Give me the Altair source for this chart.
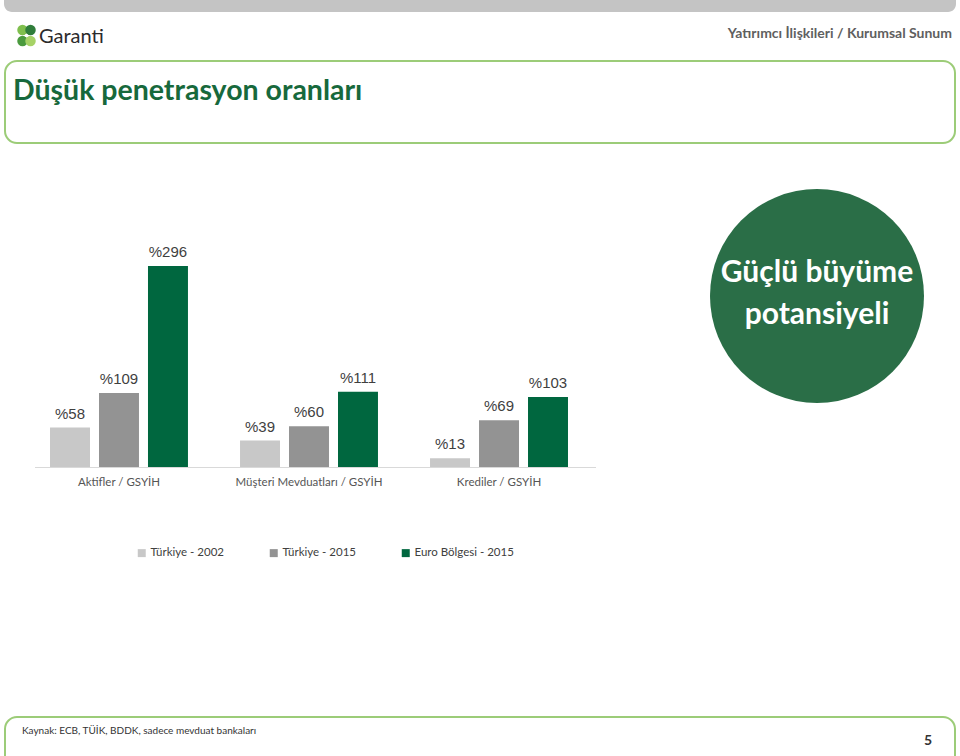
import altair as alt
import pandas as pd

# ---- data ----
categories = ["Aktifler / GSYİH", "Müşteri Mevduatları / GSYİH", "Krediler / GSYİH"]
series = ["Türkiye - 2002", "Türkiye - 2015", "Euro Bölgesi - 2015"]
tr_2002 = [58, 39, 13]
tr_2015 = [109, 60, 69]
euro_2015 = [296, 111, 103]
series_colors = ["#c8c8c8", "#939393", "#00673f"]

rows = []
for i, c in enumerate(categories):
    for s, vals in zip(series, [tr_2002, tr_2015, euro_2015]):
        rows.append({"kategori": c, "seri": s, "deger": vals[i], "etiket": f"%{vals[i]}"})
df = pd.DataFrame(rows)
cat_df = pd.DataFrame({"kategori": categories})

CAL = "Lato"
ARIAL = "Liberation Sans"
GREEN_LINE = "#9ccc78"

xscale = alt.Scale(domain=categories, range=[35, 583], paddingInner=0.274, paddingOuter=0.079)
xoff_scale = alt.Scale(domain=series, paddingInner=0.184, paddingOuter=0)
yscale = alt.Scale(domain=[0, 296], range=[467, 266], nice=False, zero=True)

def blank():
    return alt.Chart(pd.DataFrame({"a": [0]}))

# ---- decorations ----
header_bar = blank().mark_rect(fill="#c4c4c4", cornerRadius=8).encode(
    x=alt.value(4), x2=alt.value(956), y=alt.value(-12), y2=alt.value(12))
title_box = blank().mark_rect(fill="white", stroke=GREEN_LINE, strokeWidth=2, cornerRadius=12).encode(
    x=alt.value(5), x2=alt.value(955), y=alt.value(61), y2=alt.value(143))
footer_box = blank().mark_rect(fill="white", stroke=GREEN_LINE, strokeWidth=2, cornerRadius=12).encode(
    x=alt.value(5), x2=alt.value(955), y=alt.value(717), y2=alt.value(790))

logo_leaves = pd.DataFrame({
    "lx": [22.5, 30.5, 22.5, 30.5, 26.5],
    "ly": [30, 30, 41, 41, 35.5],
    "col": ["#7fbf4d", "#2f7d3a", "#4a9a3e", "#a6d266", "#ffffff"],
    "sz": [110, 110, 110, 110, 10],
})
logo = alt.Chart(logo_leaves).mark_circle(opacity=1).encode(
    x=alt.X("lx:Q", scale=None), y=alt.Y("ly:Q", scale=None),
    color=alt.Color("col:N", scale=None), size=alt.Size("sz:Q", scale=None))
logo_text = blank().mark_text(text="Garanti", font=CAL, fontSize=20, color="#2b2b2b",
                               align="left", baseline="middle").encode(
    x=alt.value(39), y=alt.value(37))
header_text = blank().mark_text(text="Yatırımcı İlişkileri / Kurumsal Sunum", font=CAL, fontSize=14,
                                 fontWeight="bold", color="#5f5f5f", align="right", baseline="middle").encode(
    x=alt.value(952), y=alt.value(34))
title_text = blank().mark_text(text="Düşük penetrasyon oranları", font=CAL, fontSize=28.5,
                                fontWeight="bold", color="#17693c", align="left", baseline="middle").encode(
    x=alt.value(13), y=alt.value(91))

circle = blank().mark_circle(fill="#2a6e47", opacity=1, size=45800).encode(
    x=alt.value(817), y=alt.value(296))
circle_t1 = blank().mark_text(text="Güçlü büyüme", font=CAL, fontSize=30, fontWeight="bold",
                               color="white", align="center", baseline="middle").encode(
    x=alt.value(817), y=alt.value(273))
circle_t2 = blank().mark_text(text="potansiyeli", font=CAL, fontSize=30, fontWeight="bold",
                               color="white", align="center", baseline="middle").encode(
    x=alt.value(817), y=alt.value(315))

footer_text = blank().mark_text(text="Kaynak: ECB, TÜİK, BDDK, sadece mevduat bankaları", font=CAL,
                                 fontSize=10, color="#333333", align="left", baseline="middle").encode(
    x=alt.value(22), y=alt.value(731))
page_no = blank().mark_text(text="5", font=CAL, fontSize=14, fontWeight="bold", color="#333333",
                             align="right", baseline="middle").encode(
    x=alt.value(932), y=alt.value(741))

baseline_rule = blank().mark_rule(color="#d9d9d9", strokeWidth=1).encode(
    x=alt.value(35), x2=alt.value(596), y=alt.value(467.5))

# ---- chart ----
bars = alt.Chart(df).mark_bar().encode(
    x=alt.X("kategori:N", scale=xscale, axis=None, sort=categories),
    xOffset=alt.XOffset("seri:N", scale=xoff_scale, sort=series),
    y=alt.Y("deger:Q", scale=yscale, axis=None),
    color=alt.Color("seri:N", sort=series,
                    scale=alt.Scale(domain=series, range=series_colors),
                    legend=alt.Legend(title=None, orient="none", legendX=136, legendY=547,
                                      direction="horizontal", symbolType="square", symbolSize=64,
                                      symbolStrokeWidth=0, labelFont=CAL, labelFontSize=11.5,
                                      labelColor="#404040", columnPadding=44, labelOffset=3)),
)
labels = alt.Chart(df).mark_text(font=ARIAL, fontSize=15, color="#3f3f3f", baseline="middle", dy=-14).encode(
    x=alt.X("kategori:N", scale=xscale, axis=None, sort=categories),
    xOffset=alt.XOffset("seri:N", scale=xoff_scale, sort=series),
    y=alt.Y("deger:Q", scale=yscale, axis=None),
    text="etiket:N",
)
cat_labels = alt.Chart(cat_df).mark_text(font=CAL, fontSize=11.5, color="#555555", baseline="middle").encode(
    x=alt.X("kategori:N", scale=xscale, axis=None, sort=categories),
    y=alt.value(483),
    text="kategori:N",
)

chart = alt.layer(
    header_bar, title_box, footer_box, logo, logo_text, header_text, title_text,
    circle, circle_t1, circle_t2, footer_text, page_no,
    baseline_rule, bars, labels, cat_labels,
).properties(
    width=960, height=756, padding=0, autosize="none", background="white"
).configure_view(stroke=None)

chart.save("out.html", embed_options={"renderer": "svg", "actions": False})
